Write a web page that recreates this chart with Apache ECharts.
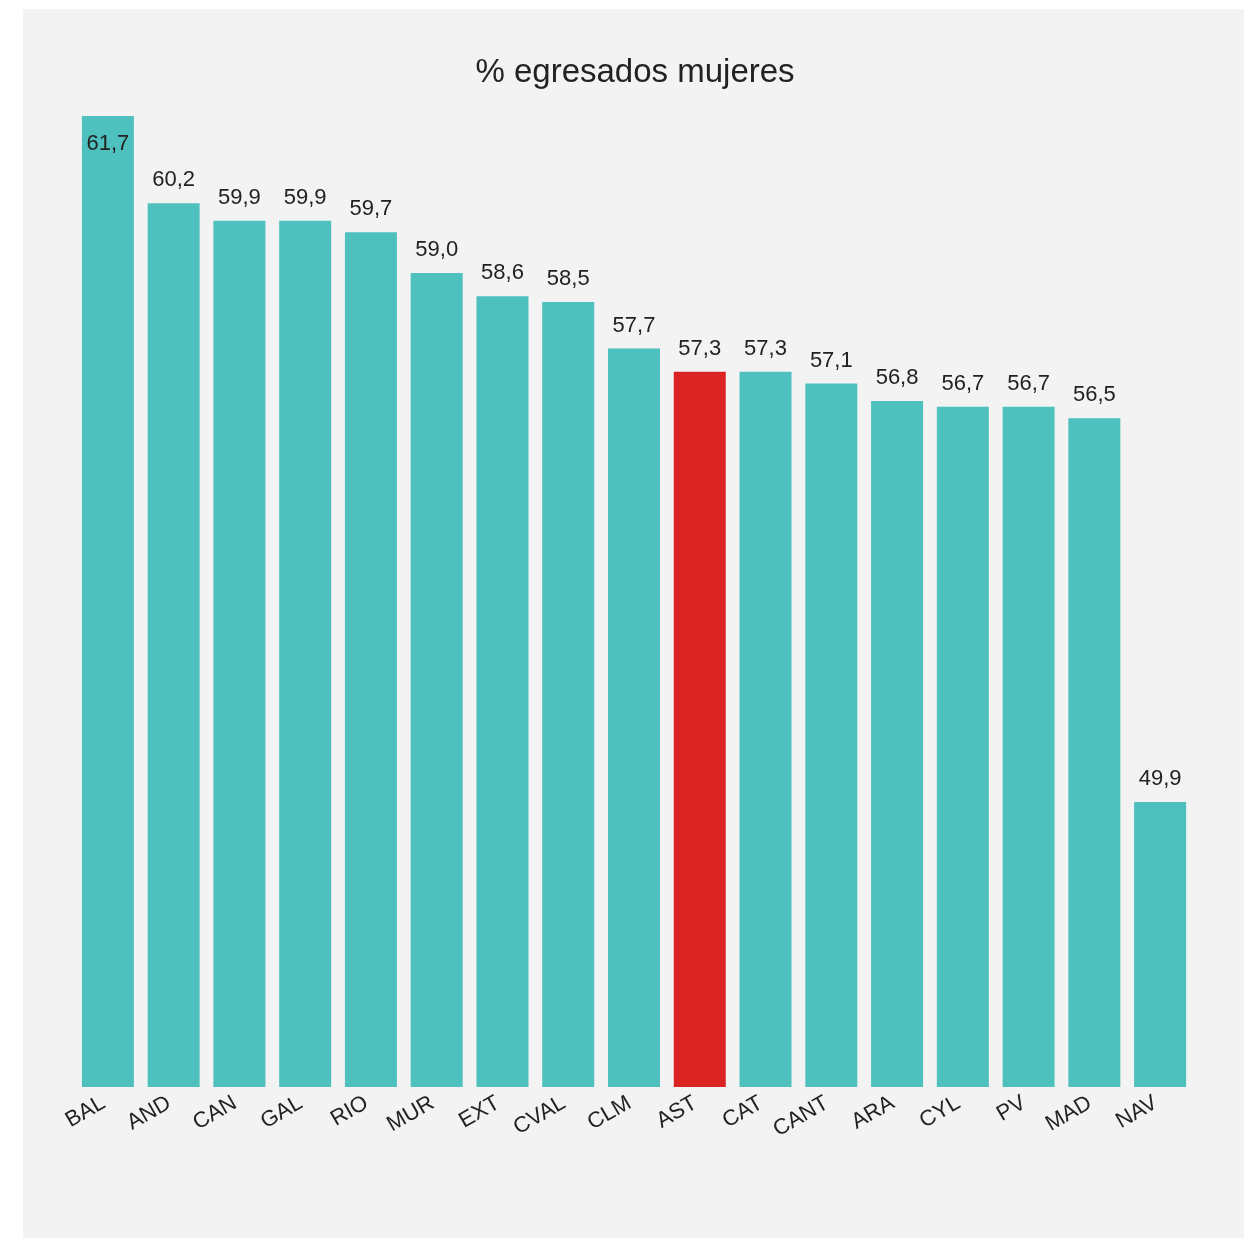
<!DOCTYPE html>
<html>
<head>
<meta charset="utf-8">
<script src="https://cdn.jsdelivr.net/npm/echarts@6/dist/echarts.min.js"></script>
<style>
  html, body { margin: 0; padding: 0; background: #ffffff; }
  #panel { position: absolute; left: 23px; top: 9px; width: 1221px; height: 1229px; background: #f3f3f3; }
  #chart { position: absolute; left: 0; top: 0; width: 1244px; height: 1238px; }
</style>
</head>
<body>
<div id="panel"></div>
<div id="chart"></div>
<script>
const categories = ["BAL","AND","CAN","GAL","RIO","MUR","EXT","CVAL","CLM","AST","CAT","CANT","ARA","CYL","PV","MAD","NAV"];
const values = [61.7, 60.2, 59.9, 59.9, 59.7, 59.0, 58.6, 58.5, 57.7, 57.3, 57.3, 57.1, 56.8, 56.7, 56.7, 56.5, 49.9];
const highlight = "AST";
const titleText = "% egresados mujeres";

const teal = "#4ec1be";
const red = "#dc2323";

const chart = echarts.init(document.getElementById('chart'), null, { renderer: 'canvas' });
const fmt = v => v.toFixed(1).replace('.', ',');
const maxVal = Math.max(...values);

chart.setOption({
  backgroundColor: 'transparent',
  animation: false,
  title: {
    text: titleText,
    left: 635, top: 51, textAlign: 'center',
    textStyle: { fontFamily: 'Liberation Sans', fontSize: 33, fontWeight: 'normal', color: '#222' }
  },
  grid: { left: 75, right: 51, top: 116, bottom: 151, containLabel: false },
  xAxis: {
    type: 'category',
    data: categories,
    axisLine: { show: false },
    axisTick: { show: false },
    axisLabel: {
      rotate: 30, interval: 0, margin: 12, padding: [0, 5, 0, 0],
      fontFamily: 'Liberation Sans', fontSize: 22, color: '#222'
    }
  },
  yAxis: {
    type: 'value', min: 45, max: 61.7, show: false,
    splitLine: { show: false }
  },
  series: [{
    type: 'bar',
    barWidth: 52,
    data: values.map((v, i) => ({
      value: v,
      itemStyle: { color: categories[i] === highlight ? red : teal },
      label: v === maxVal ? { position: 'insideTop', distance: 17 } : undefined
    })),
    label: {
      show: true, position: 'top', distance: 12,
      formatter: p => fmt(p.value),
      fontFamily: 'Liberation Sans', fontSize: 22, color: '#222'
    }
  }]
});
chart.setOption({ title: { left: 630 } });
</script>
</body>
</html>
